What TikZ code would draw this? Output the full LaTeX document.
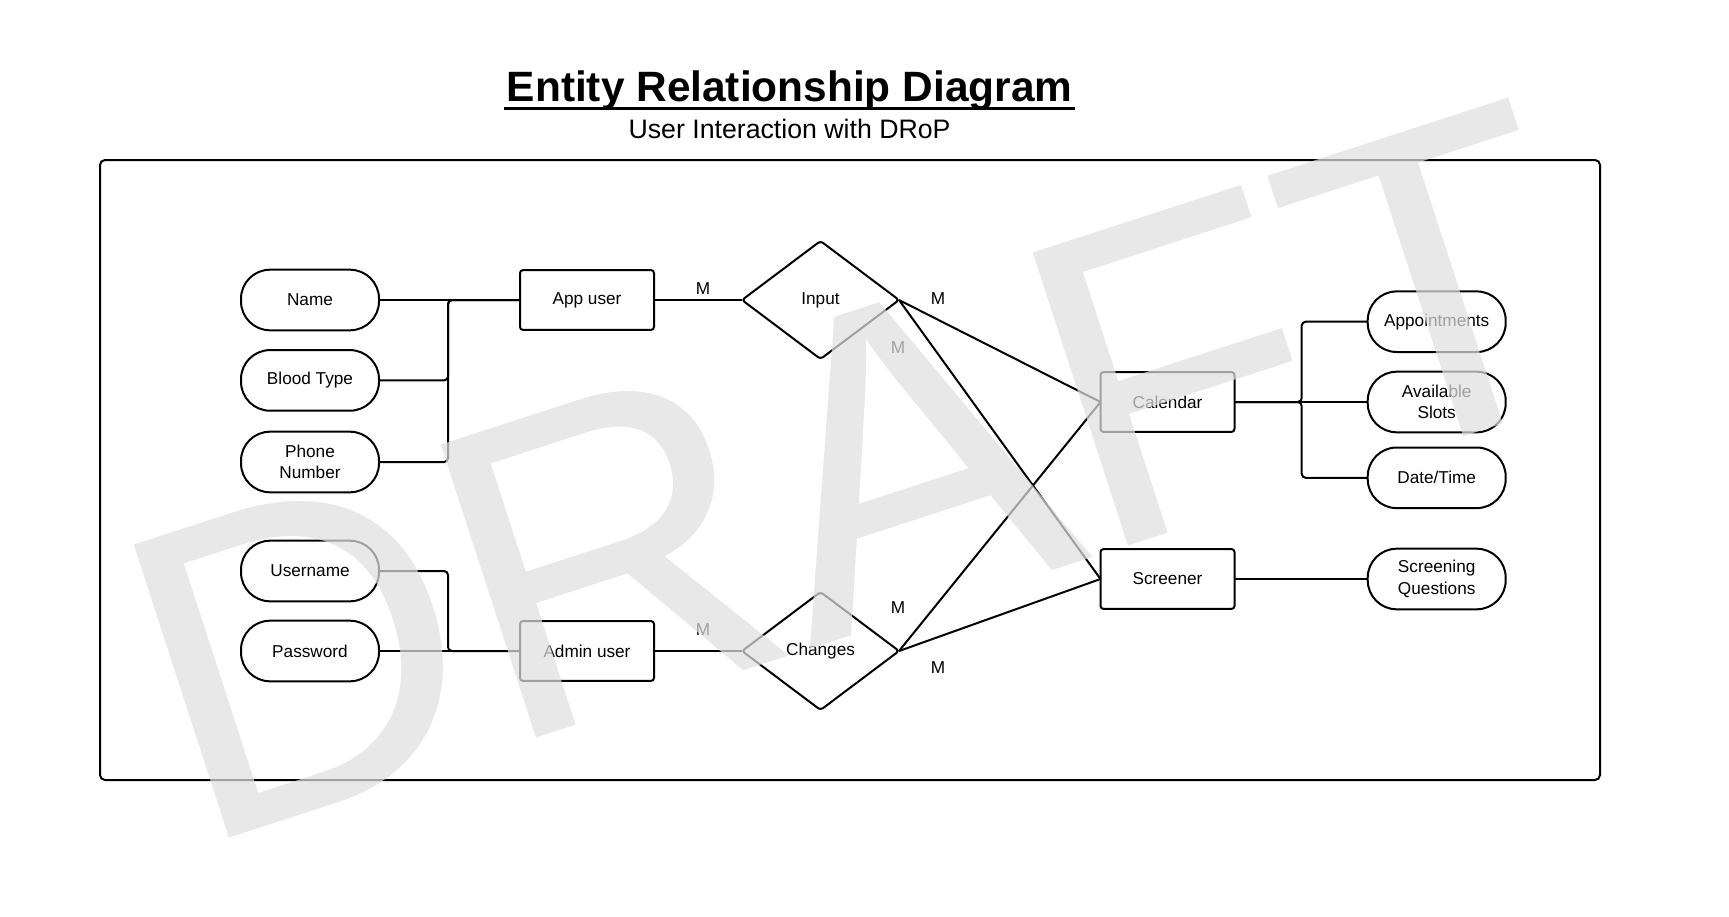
\documentclass[tikz,border=0pt]{standalone}
\usepackage{fontspec}
\setmainfont{Liberation Sans}
\usetikzlibrary{calc, positioning, shapes.geometric}
\definecolor{ink}{HTML}{000000}
\definecolor{wmgray}{HTML}{DFDFDF}
\newcommand{\erfont}{\fontsize{8.6pt}{10.7pt}\selectfont}

\begin{document}
\begin{tikzpicture}[font=\erfont, line width=1pt, draw=ink]
  \tikzset{
    attr/.style={draw, rounded corners=14.5pt, minimum width=69pt, minimum height=30.3pt, align=center, inner sep=2pt, outer sep=0pt},
    entity/.style={draw, rounded corners=1.5pt, minimum width=67pt, minimum height=29.9pt, align=center, outer sep=0pt},
    rel/.style={draw, diamond, rounded corners=1.5pt, minimum width=78.5pt, minimum height=59pt, inner sep=0pt, outer sep=0pt},
    card/.style={inner sep=0pt},
    link/.style={rounded corners=2pt},
    draftmark/.style={text=wmgray, text opacity=0.72, inner sep=0pt, font=\fontsize{224pt}{224pt}\selectfont}
  }
  \useasboundingbox (0,0) rectangle (864.5pt,-458pt);

  % title
  \node[anchor=base, inner sep=1pt, font=\fontsize{21.2pt}{24pt}\selectfont\bfseries] (title) at (394.8pt,-50.7pt) {Entity Relationship Diagram};
  \draw[line width=1.5pt] ($(title.base west)+(0,-3.35pt)$) -- ($(title.base east)+(0,-3.35pt)$);
  \node[anchor=base, font=\fontsize{13.35pt}{16pt}\selectfont] (subtitle) at (394.8pt,-69.2pt) {User Interaction with DRoP};
  \draw[rounded corners=2.5pt] (50pt,-80pt) rectangle (800pt,-390pt);

  % attributes of the users
  \node[attr] (name) at (155pt,-150pt) {Name};
  \node[attr, below=9.9pt of name] (blood) {Blood Type};
  \node[attr, below=10.5pt of blood] (phone) {Phone\\Number};
  \node[attr, below=24.2pt of phone] (user) {Username};
  \node[attr, below=9.7pt of user] (pass) {Password};

  % users and relations
  \node[entity, right=70.5pt of name] (appuser) {App user};
  \node[entity, right=70.5pt of pass] (admin) {Admin user};
  \node[rel, right=44pt of appuser] (input) {Input};
  \node[rel, right=44pt of admin] (changes) {Changes};

  % calendar and screener
  \node[entity] (cal) at (583.75pt,-201pt) {Calendar};
  \node[entity, below=58.6pt of cal] (screen) {Screener};
  \node[attr, right=66.6pt of cal] (avail) {Available\\Slots};
  \node[attr, above=9.85pt of avail] (appt) {Appointments};
  \node[attr, below=7.6pt of avail] (datetime) {Date/Time};
  \node[attr, right=66.6pt of screen] (screenq) {Screening\\Questions};

  \draw[link] (name.east) -- (appuser.west);
  \draw[link] (blood.east) -- ++(34.5pt,0) |- (appuser.west);
  \draw[link] (phone.east) -- ++(34.5pt,0) |- (appuser.west);
  \draw[link] (user.east) -- ++(34.5pt,0) |- (admin.west);
  \draw[link] (pass.east) -- (admin.west);

  \draw (appuser.east) -- (input.west);
  \draw (admin.east) -- (changes.west);
  \draw (input.east) -- (cal.west);
  \draw (input.east) -- (screen.west);
  \draw (changes.east) -- (cal.west);
  \draw (changes.east) -- (screen.west);

  \draw (cal.east) -- (avail.west);
  \draw[link] (appt.west) -- ++(-33pt,0) |- (cal.east);
  \draw[link] (datetime.west) -- ++(-33pt,0) |- (cal.east);
  \draw (screen.east) -- (screenq.west);

  % cardinalities
  \node[card] (m1) at ($(input.west)+(-19.5pt,5.9pt)$) {M};
  \node[card] (m2) at ($(changes.west)+(-19.5pt,10.5pt)$) {M};
  \node[card] (m3) at ($(input.east)+(19.5pt,0.5pt)$) {M};
  \node[card] (m4) at ($(input.east)+(-0.5pt,-23.9pt)$) {M};
  \node[card] (m5) at ($(changes.east)+(-0.5pt,21.9pt)$) {M};
  \node[card] (m6) at ($(changes.east)+(19.5pt,-8.3pt)$) {M};

  % watermark
  \node[draftmark, rotate=18] (wm) at (428.25pt,-236.25pt) {DRAFT};
\end{tikzpicture}
\end{document}
